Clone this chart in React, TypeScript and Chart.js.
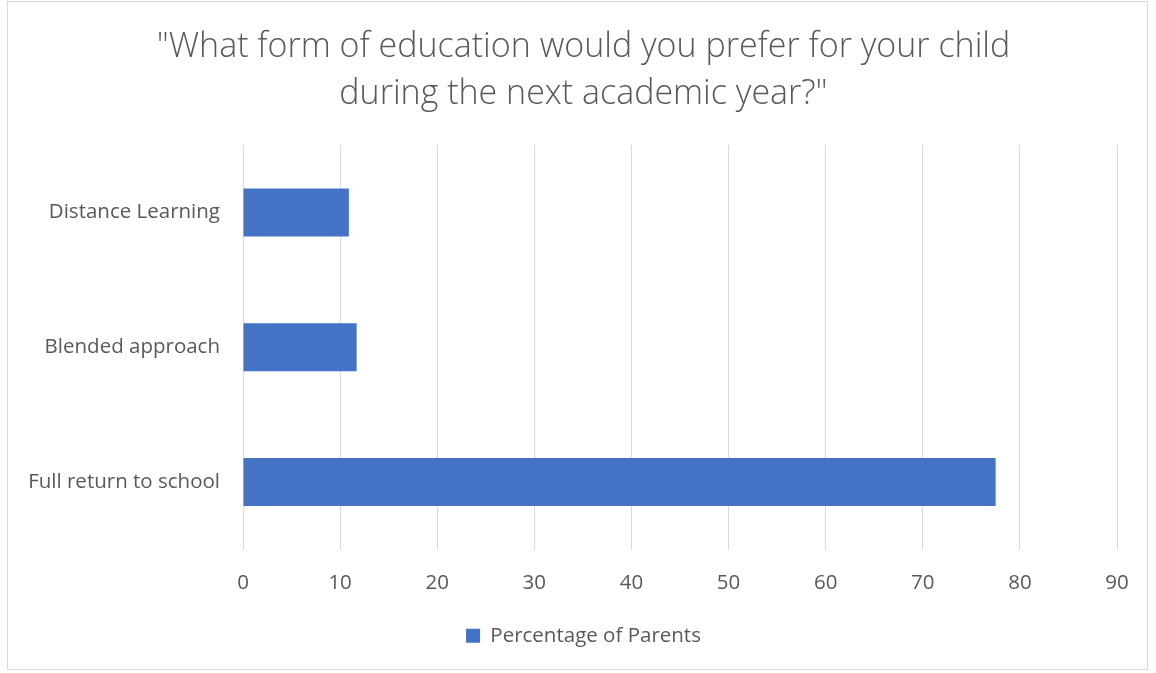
import React, { useEffect, useRef } from "react";
import { Chart, registerables } from "chart.js";

Chart.register(...registerables);

const categories = ["Distance Learning", "Blended approach", "Full return to school"];
const seriesName = "Percentage of Parents";
const seriesValues = [10.9, 11.7, 77.5];
const titleLines = ['"What form of education would you prefer for your child', 'during the next academic year?"'];
const xMin = 0;
const xMax = 90;
const xStep = 10;

const FONT = "'Open Sans', 'Noto Sans', sans-serif";
const TEXT = "#595959";

export default function App() {
  const ref = useRef<HTMLCanvasElement | null>(null);
  useEffect(() => {
    if (!ref.current) return;
    const chart = new Chart(ref.current, {
      type: "bar",
      data: {
        labels: categories,
        datasets: [
          {
            label: seriesName,
            data: seriesValues,
            backgroundColor: "#4472C4",
            borderWidth: 0,
            categoryPercentage: 1,
            barPercentage: 0.356,
          },
        ],
      },
      options: {
        indexAxis: "y",
        animation: false,
        responsive: false,
        maintainAspectRatio: false,
        layout: { padding: { left: 11, right: 0, top: 0, bottom: 17 } },
        plugins: {
          tooltip: { enabled: false },
          title: {
            display: true,
            text: titleLines,
            color: TEXT,
            font: { family: FONT, size: 34, weight: 300, lineHeight: 1.382 },
            padding: { top: 24, bottom: 27 },
          },
          legend: {
            display: true,
            position: "bottom",
            labels: {
              color: TEXT,
              font: { family: FONT, size: 20.5 },
              boxWidth: 14,
              boxHeight: 14,
              padding: 10,
            },
          },
        },
        scales: {
          x: {
            type: "linear",
            min: xMin,
            max: xMax,
            ticks: {
              stepSize: xStep,
              color: TEXT,
              font: { family: FONT, size: 20.5 },
              padding: 21,
            },
            grid: { color: "#d9d9d9", lineWidth: 1, drawTicks: false },
            border: { display: false },
            afterFit: (s: any) => {
              s.height = 66;
              s.paddingRight = 39;
            },
          },
          y: {
            ticks: {
              color: TEXT,
              font: { family: FONT, size: 20.5 },
              padding: 23,
            },
            grid: { display: false, drawTicks: false },
            border: { display: false },
            afterFit: (s: any) => {
              s.width = 232;
            },
          },
        },
      },
    });
    return () => chart.destroy();
  }, []);
  return (
    <div style={{ position: "absolute", left: 0, top: 0, width: 1156, height: 673, background: "#fff" }}>
      <div
        style={{
          position: "absolute",
          left: 7,
          top: 1,
          width: 1141,
          height: 669,
          border: "1px solid #d9d9d9",
          boxSizing: "border-box",
        }}
      />
      <canvas ref={ref} width={1156} height={673} style={{ position: "absolute", left: 0, top: 0 }} />
    </div>
  );
}
